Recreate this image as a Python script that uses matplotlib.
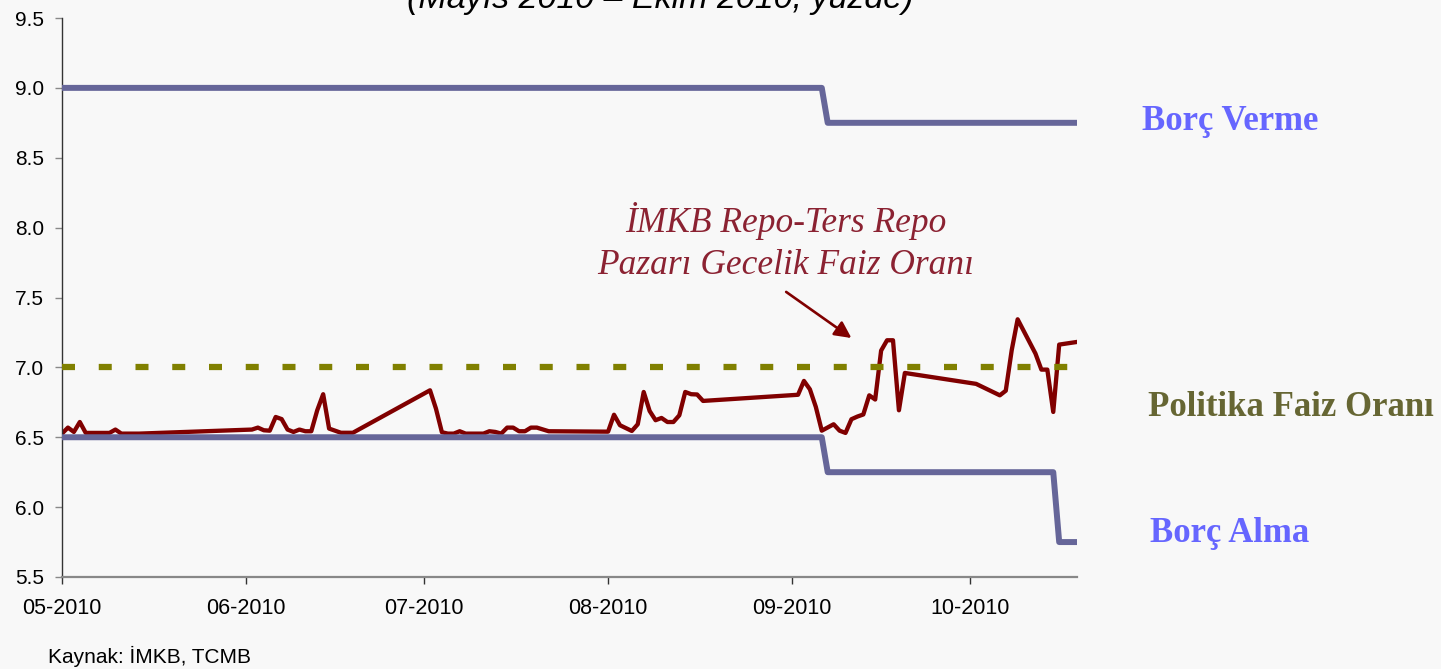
import matplotlib
matplotlib.use("Agg")
import matplotlib.pyplot as plt
import matplotlib.dates as mdates
import pandas as pd

# ---- data ----
repo_dates = ["2010-05-01", "2010-05-02", "2010-05-03", "2010-05-04", "2010-05-05",
              "2010-05-09", "2010-05-10", "2010-05-11", "2010-05-14",
              "2010-06-02", "2010-06-03", "2010-06-04", "2010-06-05", "2010-06-06",
              "2010-06-07", "2010-06-08", "2010-06-09", "2010-06-10", "2010-06-11",
              "2010-06-12", "2010-06-13", "2010-06-14", "2010-06-15", "2010-06-17",
              "2010-06-19",
              "2010-07-02", "2010-07-03", "2010-07-04", "2010-07-05", "2010-07-06",
              "2010-07-07", "2010-07-08", "2010-07-11", "2010-07-12", "2010-07-13",
              "2010-07-14", "2010-07-15", "2010-07-16", "2010-07-17", "2010-07-18",
              "2010-07-19", "2010-07-20", "2010-07-22",
              "2010-08-01", "2010-08-02", "2010-08-03", "2010-08-05", "2010-08-06",
              "2010-08-07", "2010-08-08", "2010-08-09", "2010-08-10", "2010-08-11",
              "2010-08-12", "2010-08-13", "2010-08-14", "2010-08-15", "2010-08-16",
              "2010-08-17",
              "2010-09-02", "2010-09-03", "2010-09-04", "2010-09-05", "2010-09-06",
              "2010-09-08", "2010-09-09", "2010-09-10", "2010-09-11", "2010-09-12",
              "2010-09-13", "2010-09-14", "2010-09-15", "2010-09-16", "2010-09-17",
              "2010-09-18", "2010-09-19", "2010-09-20",
              "2010-10-02", "2010-10-06", "2010-10-07", "2010-10-08", "2010-10-09",
              "2010-10-12", "2010-10-13", "2010-10-14", "2010-10-15", "2010-10-16",
              "2010-10-19"]
repo_values = [6.526, 6.569, 6.538, 6.609, 6.531,
               6.531, 6.555, 6.526, 6.526,
               6.555, 6.569, 6.550, 6.547, 6.645,
               6.630, 6.555, 6.538, 6.555, 6.543,
               6.543, 6.693, 6.808, 6.562, 6.532,
               6.532,
               6.836, 6.705, 6.536, 6.526, 6.526,
               6.543, 6.526, 6.526, 6.543, 6.538,
               6.526, 6.569, 6.569, 6.543, 6.543,
               6.569, 6.569, 6.543,
               6.540, 6.661, 6.586, 6.545, 6.593,
               6.824, 6.688, 6.622, 6.638, 6.609,
               6.609, 6.657, 6.824, 6.808, 6.806,
               6.760,
               6.804, 6.903, 6.843, 6.717, 6.547,
               6.593, 6.547, 6.531, 6.629, 6.648,
               6.663, 6.800, 6.770, 7.120, 7.194,
               7.194, 6.693, 6.960,
               6.882, 6.800, 6.833, 7.123, 7.344,
               7.099, 6.984, 6.984, 6.681, 7.163,
               7.182]

lend_dates = ["2010-05-01", "2010-09-06", "2010-09-07", "2010-10-19"]
lend_values = [9.00, 9.00, 8.75, 8.75]

borrow_dates = ["2010-05-01", "2010-09-06", "2010-09-07", "2010-10-15", "2010-10-16", "2010-10-19"]
borrow_values = [6.50, 6.50, 6.25, 6.25, 5.75, 5.75]

policy_dates = ["2010-05-01", "2010-10-19"]
policy_values = [7.00, 7.00]

month_ticks = ["2010-05-01", "2010-06-01", "2010-07-01", "2010-08-01", "2010-09-01", "2010-10-01"]
y_ticks = [5.5, 6.0, 6.5, 7.0, 7.5, 8.0, 8.5, 9.0, 9.5]

# ---- figure ----
BG = "#f8f8f8"
fig = plt.figure(figsize=(14.41, 6.69), dpi=100, facecolor=BG)
ax = fig.add_axes([62 / 1441, 1 - 577 / 669, (1077 - 62) / 1441, (577 - 18) / 669])
ax.set_facecolor(BG)

ax.plot(pd.to_datetime(repo_dates), repo_values, color="#800000", lw=3.1,
        solid_joinstyle="round", zorder=2)
ax.plot(pd.to_datetime(lend_dates), lend_values, color="#666699", lw=4.3, zorder=3)
ax.plot(pd.to_datetime(borrow_dates), borrow_values, color="#666699", lw=4.3, zorder=3)
ax.plot(pd.to_datetime(policy_dates), policy_values, color="#808000", lw=4.5,
        linestyle=(0, (2.08, 3.8)), dash_capstyle="butt", zorder=4)

ax.set_xlim(pd.Timestamp("2010-05-01"), pd.Timestamp("2010-10-19"))
ax.set_ylim(5.5, 9.5)
ax.set_yticks(y_ticks)
ax.set_yticklabels([f"{v:.1f}" for v in y_ticks])
ax.set_xticks(pd.to_datetime(month_ticks))
ax.xaxis.set_major_formatter(mdates.DateFormatter("%m-%Y"))

for s in ["top", "right"]:
    ax.spines[s].set_visible(False)
ax.spines["left"].set_color("#333333")
ax.spines["left"].set_linewidth(1.0)
ax.spines["bottom"].set_color("#888888")
ax.spines["bottom"].set_linewidth(1.6)

ax.tick_params(axis="y", direction="out", length=5, width=1, color="#888888",
               pad=8, labelsize=15)
ax.tick_params(axis="x", direction="out", length=5, width=1, color="#333333",
               pad=10, labelsize=15.5)
for lab in ax.get_xticklabels() + ax.get_yticklabels():
    lab.set_fontfamily("Liberation Sans")

# title (partly cut at top, as in the source)
fig.text(660 / 1441, 1 - 8 / 669, "(Mayıs 2010 – Ekim 2010, yüzde)", ha="center",
         va="baseline", fontsize=24.5, style="italic", family="Liberation Sans",
         color="#000000")

# annotation for repo rate
ax.text(pd.Timestamp("2010-08-31"), 7.90,
        "İMKB Repo-Ters Repo\nPazarı Gecelik Faiz Oranı", ha="center", va="center",
        fontsize=25.5, style="italic", family="Liberation Serif", color="#8b2232",
        linespacing=1.36)
ax.annotate("", xy=(pd.Timestamp("2010-09-11"), 7.21),
            xytext=(pd.Timestamp("2010-08-31"), 7.54),
            arrowprops=dict(arrowstyle="-|>,head_length=1.0,head_width=0.5",
                            color="#800000", lw=1.9, shrinkA=0, shrinkB=0))

# right-side labels
fig.text(1142 / 1441, 1 - 121 / 669, "Borç Verme", ha="left", va="center",
         fontsize=25, fontweight="bold", family="Liberation Serif", color="#6666ff")
fig.text(1148 / 1441, 1 - 408 / 669, "Politika Faiz Oranı", ha="left", va="center",
         fontsize=25, fontweight="bold", family="Liberation Serif", color="#666633")
fig.text(1150 / 1441, 1 - 533 / 669, "Borç Alma", ha="left", va="center",
         fontsize=25, fontweight="bold", family="Liberation Serif", color="#6666ff")

fig.text(48 / 1441, 1 - 656 / 669, "Kaynak: İMKB, TCMB", ha="left", va="center",
         fontsize=15, family="Liberation Sans", color="#000000")

fig.savefig("out.png", dpi=100, facecolor=BG)
